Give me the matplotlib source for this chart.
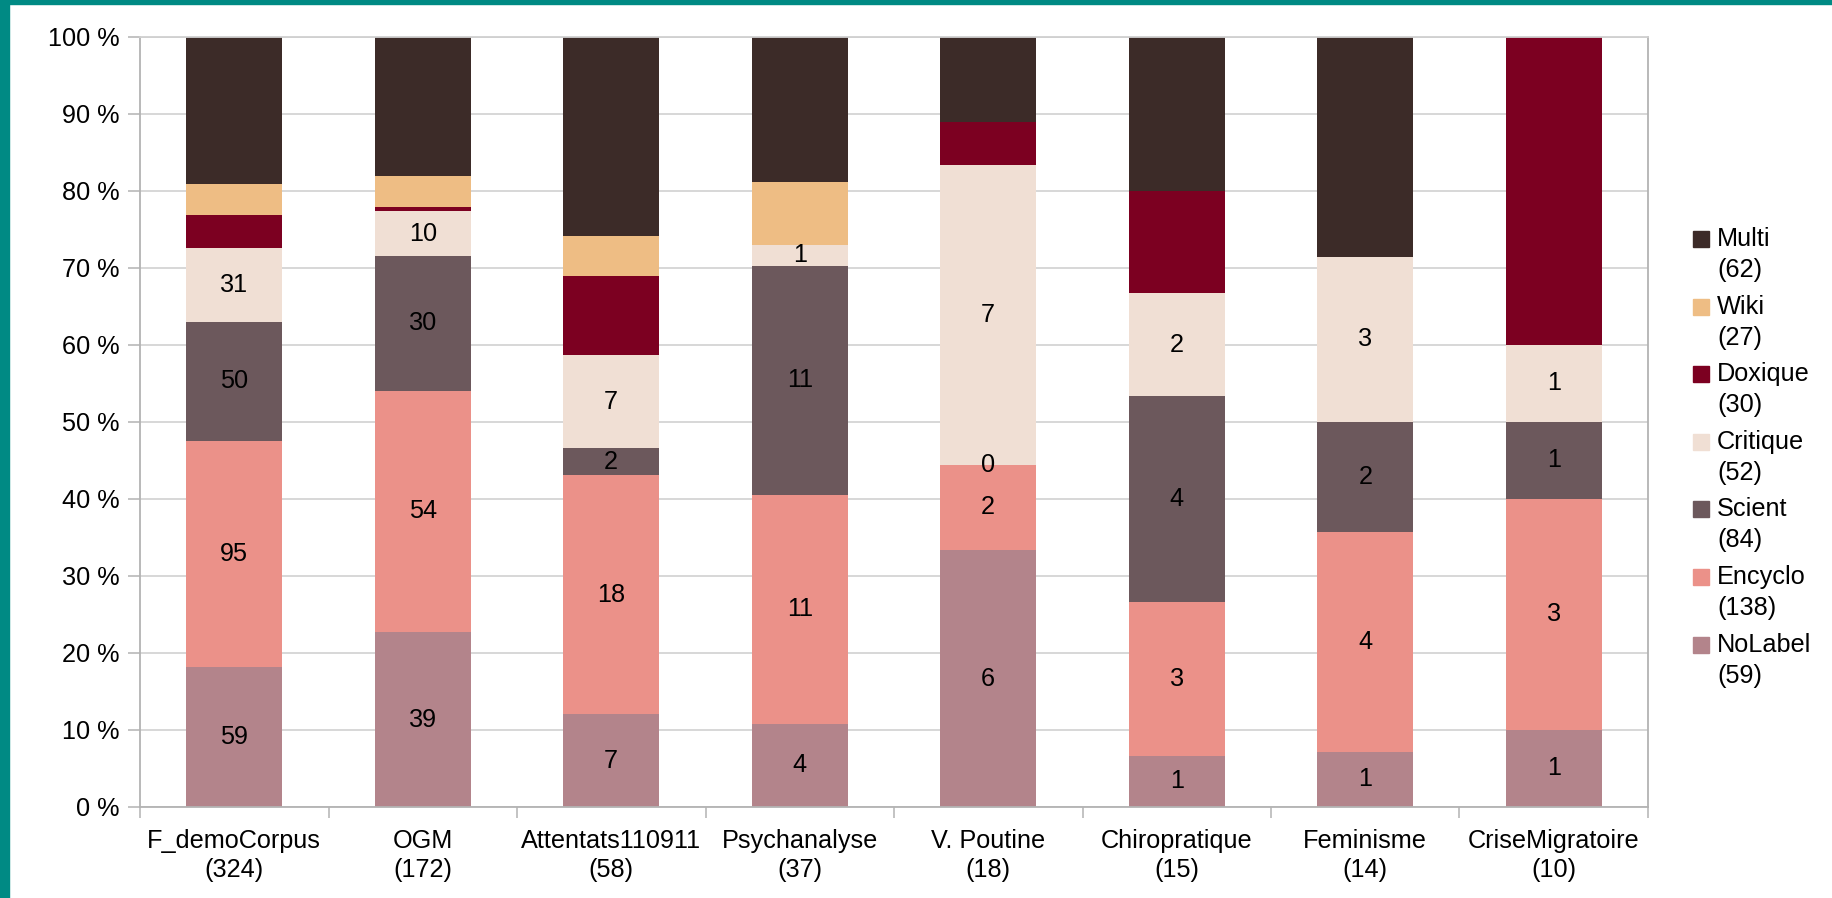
import numpy as np
import matplotlib.pyplot as plt
from matplotlib.patches import Rectangle

plt.rcParams['font.family'] = ['Liberation Sans', 'DejaVu Sans']

# corpus names and sizes
corpora = ['F_demoCorpus', 'OGM', 'Attentats110911', 'Psychanalyse',
           'V. Poutine', 'Chiropratique', 'Feminisme', 'CriseMigratoire']
sizes = [324, 172, 58, 37, 18, 15, 14, 10]

# counts per label (bottom -> top)
nolabel = [59, 39, 7, 4, 6, 1, 1, 1]
encyclo = [95, 54, 18, 11, 2, 3, 4, 3]
scient = [50, 30, 2, 11, 0, 4, 2, 1]
critique = [31, 10, 7, 1, 7, 2, 3, 1]
doxique = [14, 1, 6, 0, 1, 2, 0, 4]
wiki = [13, 7, 3, 3, 0, 0, 0, 0]
multi = [62, 31, 15, 7, 2, 3, 4, 0]

series_names = ['NoLabel', 'Encyclo', 'Scient', 'Critique', 'Doxique', 'Wiki', 'Multi']
legend_totals = [59, 138, 84, 52, 30, 27, 62]
colors = ['#b3848b', '#eb9189', '#6c585c', '#f0dfd4', '#7c0021', '#eebd84', '#3c2b28']

series = [nolabel, encyclo, scient, critique, doxique, wiki, multi]
labelled = [True, True, True, True, False, False, False]

W, H = 1833, 898
fig = plt.figure(figsize=(W / 100, H / 100), dpi=100)
ax = fig.add_axes([140 / W, 1 - 807 / H, (1648 - 140) / W, (807 - 36.7) / H])

x = np.arange(len(corpora))
totals = np.array(sizes, dtype=float)
bottom = np.zeros(len(corpora))
fs = 18.2
for vals, name, col, lab in zip(series, series_names, colors, labelled):
    pct = np.array(vals) / totals * 100
    bars = ax.bar(x, pct, 0.51, bottom=bottom, color=col, zorder=2)
    if lab:
        ax.bar_label(bars, labels=[str(v) for v in vals], label_type='center',
                     fontsize=fs, color='black', zorder=4)
    bottom += pct

ax.set_xlim(-0.5, len(corpora) - 0.5)
ax.set_ylim(0, 100)
ax.set_yticks(np.arange(0, 101, 10))
ax.set_yticklabels([f'{v} %' for v in range(0, 101, 10)], fontsize=fs)
ax.set_xticks(x)
ax.set_xticklabels([f'{c}\n({n})' for c, n in zip(corpora, sizes)], fontsize=fs,
                   linespacing=1.25)
ax.set_xticks(np.arange(-0.5, len(corpora)), minor=True)
ax.tick_params(axis='x', which='major', length=0, pad=16)
ax.tick_params(axis='x', which='minor', length=8, color='#b3b3b3', width=1.1)
ax.tick_params(axis='y', length=8.5, color='#b3b3b3', width=1.1, pad=6.5)

ax.yaxis.grid(True, color='#d4d4d4', linewidth=1.3, zorder=0)
ax.set_axisbelow(True)
for side in ['left', 'right', 'bottom']:
    ax.spines[side].set_color('#b3b3b3')
    ax.spines[side].set_linewidth(1.3)
ax.spines['top'].set_color('#d0d0d0')
ax.spines['top'].set_linewidth(1.3)

# legend, top entry first
for i, k in enumerate(range(len(series_names) - 1, -1, -1)):
    yc = 239 + i * 67.6
    fig.add_artist(Rectangle((1693 / W, 1 - (yc + 8) / H), 16 / W, 16 / H,
                             color=colors[k], transform=fig.transFigure))
    fig.text(1717 / W, 1 - yc / H, series_names[k], fontsize=fs, va='center')
    fig.text(1717 / W, 1 - (yc + 31) / H, f'({legend_totals[k]})', fontsize=fs, va='center')

# teal frame on top and left
teal = '#008a84'
fig.add_artist(Rectangle((0, 1 - 4 / H), 1, 4 / H, color=teal, transform=fig.transFigure))
fig.add_artist(Rectangle((0, 0), 9 / W, 1, color=teal, transform=fig.transFigure))

fig.savefig('out.png', dpi=100)
